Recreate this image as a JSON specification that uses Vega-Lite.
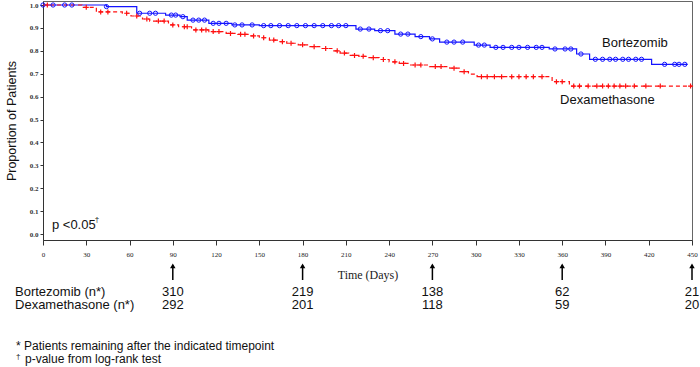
{
  "$schema": "https://vega.github.io/schema/vega-lite/v6.json",
  "width": 649,
  "height": 239,
  "autosize": {"type": "none"},
  "padding": {"left": 43, "top": 1, "right": 8, "bottom": 127},
  "background": "white",
  "config": {
    "view": {"stroke": "#666666", "strokeWidth": 1},
    "axisX": {"titleFont": "Liberation Serif", "titleFontSize": 12, "titleFontWeight": "normal", "titleColor": "#222", "titlePadding": 12, "labelFont": "Liberation Serif", "labelFontSize": 7, "labelColor": "#222", "labelPadding": 5, "labelFlush": false, "labelOverlap": false, "tickSize": 5, "tickColor": "#333", "domainColor": "#333", "grid": false},
    "axisY": {"titleFont": "Liberation Sans", "titleFontSize": 12.5, "titleFontWeight": "normal", "titleColor": "#111", "titlePadding": 11, "labelFont": "Liberation Serif", "labelFontSize": 7, "labelFontWeight": "bold", "labelColor": "#333", "labelPadding": 2, "labelOverlap": false, "labelFlush": false, "tickSize": 3, "tickColor": "#333", "domainColor": "#333", "grid": false, "format": ".1f", "values": [0, 0.1, 0.2, 0.3, 0.4, 0.5, 0.6, 0.7, 0.8, 0.9, 1.0]}
  },
  "datasets": {
    "curves": [
      {"g": "Bortezomib", "day": 0, "surv": 1.0}, {"g": "Bortezomib", "day": 44, "surv": 0.993}, {"g": "Bortezomib", "day": 65, "surv": 0.964}, {"g": "Bortezomib", "day": 85, "surv": 0.956}, {"g": "Bortezomib", "day": 95, "surv": 0.949}, {"g": "Bortezomib", "day": 100, "surv": 0.934}, {"g": "Bortezomib", "day": 115, "surv": 0.92}, {"g": "Bortezomib", "day": 131, "surv": 0.913}, {"g": "Bortezomib", "day": 150, "surv": 0.91}, {"g": "Bortezomib", "day": 217, "surv": 0.895}, {"g": "Bortezomib", "day": 230, "surv": 0.888}, {"g": "Bortezomib", "day": 244, "surv": 0.873}, {"g": "Bortezomib", "day": 258, "surv": 0.862}, {"g": "Bortezomib", "day": 268, "surv": 0.852}, {"g": "Bortezomib", "day": 275, "surv": 0.838}, {"g": "Bortezomib", "day": 299, "surv": 0.825}, {"g": "Bortezomib", "day": 310, "surv": 0.815}, {"g": "Bortezomib", "day": 351, "surv": 0.808}, {"g": "Bortezomib", "day": 370, "surv": 0.786}, {"g": "Bortezomib", "day": 379, "surv": 0.763}, {"g": "Bortezomib", "day": 422, "surv": 0.741}, {"g": "Bortezomib", "day": 447, "surv": 0.741},
      {"g": "Dexamethasone", "day": 0, "surv": 1.0}, {"g": "Dexamethasone", "day": 27, "surv": 0.99}, {"g": "Dexamethasone", "day": 37, "surv": 0.97}, {"g": "Dexamethasone", "day": 55, "surv": 0.964}, {"g": "Dexamethasone", "day": 61, "surv": 0.952}, {"g": "Dexamethasone", "day": 69, "surv": 0.939}, {"g": "Dexamethasone", "day": 74, "surv": 0.93}, {"g": "Dexamethasone", "day": 87, "surv": 0.913}, {"g": "Dexamethasone", "day": 94, "surv": 0.905}, {"g": "Dexamethasone", "day": 103, "surv": 0.891}, {"g": "Dexamethasone", "day": 115, "surv": 0.884}, {"g": "Dexamethasone", "day": 127, "surv": 0.876}, {"g": "Dexamethasone", "day": 135, "surv": 0.872}, {"g": "Dexamethasone", "day": 143, "surv": 0.865}, {"g": "Dexamethasone", "day": 150, "surv": 0.857}, {"g": "Dexamethasone", "day": 157, "surv": 0.847}, {"g": "Dexamethasone", "day": 163, "surv": 0.84}, {"g": "Dexamethasone", "day": 169, "surv": 0.833}, {"g": "Dexamethasone", "day": 177, "surv": 0.826}, {"g": "Dexamethasone", "day": 185, "surv": 0.818}, {"g": "Dexamethasone", "day": 193, "surv": 0.81}, {"g": "Dexamethasone", "day": 201, "surv": 0.8}, {"g": "Dexamethasone", "day": 206, "surv": 0.79}, {"g": "Dexamethasone", "day": 212, "surv": 0.78}, {"g": "Dexamethasone", "day": 219, "surv": 0.776}, {"g": "Dexamethasone", "day": 226, "surv": 0.77}, {"g": "Dexamethasone", "day": 233, "surv": 0.762}, {"g": "Dexamethasone", "day": 240, "surv": 0.752}, {"g": "Dexamethasone", "day": 247, "surv": 0.745}, {"g": "Dexamethasone", "day": 254, "surv": 0.738}, {"g": "Dexamethasone", "day": 268, "surv": 0.731}, {"g": "Dexamethasone", "day": 282, "surv": 0.724}, {"g": "Dexamethasone", "day": 289, "surv": 0.709}, {"g": "Dexamethasone", "day": 295, "surv": 0.698}, {"g": "Dexamethasone", "day": 301, "surv": 0.687}, {"g": "Dexamethasone", "day": 353, "surv": 0.665}, {"g": "Dexamethasone", "day": 365, "surv": 0.646}, {"g": "Dexamethasone", "day": 450, "surv": 0.646}
    ],
    "censorB": [
      {"day": 0, "surv": 1.0}, {"day": 7, "surv": 1.0}, {"day": 15, "surv": 1.0}, {"day": 20, "surv": 1.0}, {"day": 44, "surv": 0.993}, {"day": 67, "surv": 0.964}, {"day": 74, "surv": 0.964}, {"day": 78, "surv": 0.964}, {"day": 89, "surv": 0.956}, {"day": 92, "surv": 0.956}, {"day": 97, "surv": 0.949}, {"day": 104, "surv": 0.934}, {"day": 108, "surv": 0.934}, {"day": 112, "surv": 0.934}, {"day": 118, "surv": 0.92}, {"day": 122, "surv": 0.92}, {"day": 127, "surv": 0.92}, {"day": 133, "surv": 0.913}, {"day": 138, "surv": 0.913}, {"day": 145, "surv": 0.913}, {"day": 153, "surv": 0.91}, {"day": 158, "surv": 0.91}, {"day": 164, "surv": 0.91}, {"day": 170, "surv": 0.91}, {"day": 176, "surv": 0.91}, {"day": 182, "surv": 0.91}, {"day": 188, "surv": 0.91}, {"day": 194, "surv": 0.91}, {"day": 200, "surv": 0.91}, {"day": 205, "surv": 0.91}, {"day": 210, "surv": 0.91}, {"day": 220, "surv": 0.895}, {"day": 226, "surv": 0.895}, {"day": 234, "surv": 0.888}, {"day": 239, "surv": 0.888}, {"day": 248, "surv": 0.873}, {"day": 253, "surv": 0.873}, {"day": 262, "surv": 0.862}, {"day": 270, "surv": 0.852}, {"day": 280, "surv": 0.838}, {"day": 285, "surv": 0.838}, {"day": 291, "surv": 0.838}, {"day": 302, "surv": 0.825}, {"day": 306, "surv": 0.825}, {"day": 314, "surv": 0.815}, {"day": 319, "surv": 0.815}, {"day": 325, "surv": 0.815}, {"day": 330, "surv": 0.815}, {"day": 336, "surv": 0.815}, {"day": 342, "surv": 0.815}, {"day": 346, "surv": 0.815}, {"day": 355, "surv": 0.808}, {"day": 362, "surv": 0.808}, {"day": 366, "surv": 0.808}, {"day": 373, "surv": 0.786}, {"day": 383, "surv": 0.763}, {"day": 388, "surv": 0.763}, {"day": 393, "surv": 0.763}, {"day": 397, "surv": 0.763}, {"day": 402, "surv": 0.763}, {"day": 406, "surv": 0.763}, {"day": 411, "surv": 0.763}, {"day": 415, "surv": 0.763}, {"day": 431, "surv": 0.741}, {"day": 438, "surv": 0.741}, {"day": 441, "surv": 0.741}, {"day": 445, "surv": 0.741}
    ],
    "censorD": [
      {"day": 3, "surv": 1.0}, {"day": 30, "surv": 0.99}, {"day": 40, "surv": 0.97}, {"day": 45, "surv": 0.97}, {"day": 58, "surv": 0.964}, {"day": 65, "surv": 0.952}, {"day": 72, "surv": 0.939}, {"day": 80, "surv": 0.93}, {"day": 84, "surv": 0.93}, {"day": 90, "surv": 0.913}, {"day": 98, "surv": 0.905}, {"day": 100, "surv": 0.905}, {"day": 106, "surv": 0.891}, {"day": 110, "surv": 0.891}, {"day": 113, "surv": 0.891}, {"day": 118, "surv": 0.884}, {"day": 122, "surv": 0.884}, {"day": 130, "surv": 0.876}, {"day": 137, "surv": 0.872}, {"day": 140, "surv": 0.872}, {"day": 146, "surv": 0.865}, {"day": 153, "surv": 0.857}, {"day": 160, "surv": 0.847}, {"day": 166, "surv": 0.84}, {"day": 172, "surv": 0.833}, {"day": 180, "surv": 0.826}, {"day": 188, "surv": 0.818}, {"day": 196, "surv": 0.81}, {"day": 204, "surv": 0.8}, {"day": 209, "surv": 0.79}, {"day": 216, "surv": 0.78}, {"day": 222, "surv": 0.776}, {"day": 229, "surv": 0.77}, {"day": 236, "surv": 0.762}, {"day": 244, "surv": 0.752}, {"day": 250, "surv": 0.745}, {"day": 258, "surv": 0.738}, {"day": 262, "surv": 0.738}, {"day": 272, "surv": 0.731}, {"day": 276, "surv": 0.731}, {"day": 285, "surv": 0.724}, {"day": 292, "surv": 0.709}, {"day": 304, "surv": 0.687}, {"day": 308, "surv": 0.687}, {"day": 313, "surv": 0.687}, {"day": 318, "surv": 0.687}, {"day": 325, "surv": 0.687}, {"day": 330, "surv": 0.687}, {"day": 335, "surv": 0.687}, {"day": 340, "surv": 0.687}, {"day": 346, "surv": 0.687}, {"day": 356, "surv": 0.665}, {"day": 360, "surv": 0.665}, {"day": 368, "surv": 0.646}, {"day": 372, "surv": 0.646}, {"day": 378, "surv": 0.646}, {"day": 384, "surv": 0.646}, {"day": 388, "surv": 0.646}, {"day": 392, "surv": 0.646}, {"day": 396, "surv": 0.646}, {"day": 400, "surv": 0.646}, {"day": 404, "surv": 0.646}, {"day": 410, "surv": 0.646}, {"day": 418, "surv": 0.646}, {"day": 428, "surv": 0.646}, {"day": 449, "surv": 0.646}
    ],
    "atrisk": [
      {"day": 90, "g": "Bortezomib", "n": 310}, {"day": 180, "g": "Bortezomib", "n": 219}, {"day": 270, "g": "Bortezomib", "n": 138}, {"day": 360, "g": "Bortezomib", "n": 62}, {"day": 450, "g": "Bortezomib", "n": 21},
      {"day": 90, "g": "Dexamethasone", "n": 292}, {"day": 180, "g": "Dexamethasone", "n": 201}, {"day": 270, "g": "Dexamethasone", "n": 118}, {"day": 360, "g": "Dexamethasone", "n": 59}, {"day": 450, "g": "Dexamethasone", "n": 20}
    ],
    "marks": [{"day": 90}, {"day": 180}, {"day": 270}, {"day": 360}, {"day": 450}],
    "one": [{}]
  },
  "layer": [
    {
      "data": {"name": "curves"},
      "transform": [{"filter": "datum.g === 'Bortezomib'"}],
      "mark": {"type": "line", "interpolate": "step-after", "color": "#1414ff", "strokeWidth": 1.2},
      "encoding": {
        "x": {"field": "day", "type": "quantitative", "title": "Time (Days)", "scale": {"domain": [0, 450], "nice": false, "zero": false},
          "axis": {"values": [0, 30, 60, 90, 120, 150, 180, 210, 240, 270, 300, 330, 360, 390, 420, 450]}},
        "y": {"field": "surv", "type": "quantitative", "title": "Proportion of Patients", "scale": {"domain": [-0.0262, 1.0175], "nice": false, "zero": false},
          "axis": {"values": [0, 0.1, 0.2, 0.3, 0.4, 0.5, 0.6, 0.7, 0.8, 0.9, 1.0], "format": ".1f", "tickCount": 11}}
      }
    },
    {
      "data": {"name": "curves"},
      "transform": [{"filter": "datum.g === 'Dexamethasone'"}],
      "mark": {"type": "line", "interpolate": "step-after", "color": "#ff1010", "strokeWidth": 1.2, "strokeDash": [4, 3]},
      "encoding": {
        "x": {"field": "day", "type": "quantitative"},
        "y": {"field": "surv", "type": "quantitative"}
      }
    },
    {
      "data": {"name": "censorB"},
      "mark": {"type": "point", "shape": "circle", "filled": false, "color": "#1414ff", "strokeWidth": 1, "size": 18, "opacity": 1},
      "encoding": {
        "x": {"field": "day", "type": "quantitative"},
        "y": {"field": "surv", "type": "quantitative"}
      }
    },
    {
      "data": {"name": "censorD"},
      "mark": {"type": "point", "shape": "M-1,0L1,0M0,-1L0,1", "filled": false, "color": "#ff1010", "strokeWidth": 1.2, "size": 25, "opacity": 1},
      "encoding": {
        "x": {"field": "day", "type": "quantitative"},
        "y": {"field": "surv", "type": "quantitative"}
      }
    },
    {
      "data": {"name": "marks"},
      "mark": {"type": "rule", "color": "black", "strokeWidth": 1.5},
      "encoding": {
        "x": {"field": "day", "type": "quantitative"},
        "y": {"datum": -0.2009, "type": "quantitative"},
        "y2": {"datum": -0.137}
      }
    },
    {
      "data": {"name": "marks"},
      "mark": {"type": "point", "shape": "triangle-up", "filled": true, "color": "black", "size": 30, "opacity": 1},
      "encoding": {
        "x": {"field": "day", "type": "quantitative"},
        "y": {"datum": -0.1397, "type": "quantitative"}
      }
    },
    {
      "data": {"name": "atrisk"},
      "transform": [{"filter": "datum.g === 'Bortezomib'"}],
      "mark": {"type": "text", "font": "Liberation Sans", "fontSize": 13, "color": "#111", "align": "center", "baseline": "middle"},
      "encoding": {
        "x": {"field": "day", "type": "quantitative"},
        "y": {"datum": -0.2533, "type": "quantitative"},
        "text": {"field": "n"}
      }
    },
    {
      "data": {"name": "atrisk"},
      "transform": [{"filter": "datum.g === 'Dexamethasone'"}],
      "mark": {"type": "text", "font": "Liberation Sans", "fontSize": 13, "color": "#111", "align": "center", "baseline": "middle"},
      "encoding": {
        "x": {"field": "day", "type": "quantitative"},
        "y": {"datum": -0.3079, "type": "quantitative"},
        "text": {"field": "n"}
      }
    },
    {
      "data": {"name": "one"},
      "mark": {"type": "text", "font": "Liberation Sans", "fontSize": 13, "color": "#111", "align": "left", "baseline": "middle", "text": "Bortezomib (n*)"},
      "encoding": {
        "x": {"datum": -19.4, "type": "quantitative"},
        "y": {"datum": -0.2533, "type": "quantitative"}
      }
    },
    {
      "data": {"name": "one"},
      "mark": {"type": "text", "font": "Liberation Sans", "fontSize": 13, "color": "#111", "align": "left", "baseline": "middle", "text": "Dexamethasone (n*)"},
      "encoding": {
        "x": {"datum": -19.4, "type": "quantitative"},
        "y": {"datum": -0.3079, "type": "quantitative"}
      }
    },
    {
      "data": {"name": "one"},
      "mark": {"type": "text", "font": "Liberation Sans", "fontSize": 12, "color": "#111", "align": "left", "baseline": "middle", "text": "* Patients remaining after the indicated timepoint"},
      "encoding": {
        "x": {"datum": -18.7, "type": "quantitative"},
        "y": {"datum": -0.4891, "type": "quantitative"}
      }
    },
    {
      "data": {"name": "one"},
      "mark": {"type": "text", "font": "Liberation Sans", "fontSize": 8, "color": "#111", "align": "left", "baseline": "middle", "text": "†"},
      "encoding": {
        "x": {"datum": -18.7, "type": "quantitative"},
        "y": {"datum": -0.535, "type": "quantitative"}
      }
    },
    {
      "data": {"name": "one"},
      "mark": {"type": "text", "font": "Liberation Sans", "fontSize": 12, "color": "#111", "align": "left", "baseline": "middle", "text": "p-value from log-rank test"},
      "encoding": {
        "x": {"datum": -12.5, "type": "quantitative"},
        "y": {"datum": -0.5459, "type": "quantitative"}
      }
    },
    {
      "data": {"name": "one"},
      "mark": {"type": "text", "font": "Liberation Sans", "fontSize": 13, "color": "#111", "align": "left", "baseline": "middle", "text": "p <0.05"},
      "encoding": {
        "x": {"datum": 6.2, "type": "quantitative"},
        "y": {"datum": 0.0393, "type": "quantitative"}
      }
    },
    {
      "data": {"name": "one"},
      "mark": {"type": "text", "font": "Liberation Sans", "fontSize": 8, "color": "#111", "align": "left", "baseline": "middle", "text": "†"},
      "encoding": {
        "x": {"datum": 35.8, "type": "quantitative"},
        "y": {"datum": 0.06, "type": "quantitative"}
      }
    },
    {
      "data": {"name": "one"},
      "mark": {"type": "text", "font": "Liberation Sans", "fontSize": 13, "color": "#111", "align": "left", "baseline": "middle", "text": "Bortezomib"},
      "encoding": {
        "x": {"datum": 387.6, "type": "quantitative"},
        "y": {"datum": 0.834, "type": "quantitative"}
      }
    },
    {
      "data": {"name": "one"},
      "mark": {"type": "text", "font": "Liberation Sans", "fontSize": 13, "color": "#111", "align": "left", "baseline": "middle", "text": "Dexamethasone"},
      "encoding": {
        "x": {"datum": 358.5, "type": "quantitative"},
        "y": {"datum": 0.585, "type": "quantitative"}
      }
    }
  ]
}
